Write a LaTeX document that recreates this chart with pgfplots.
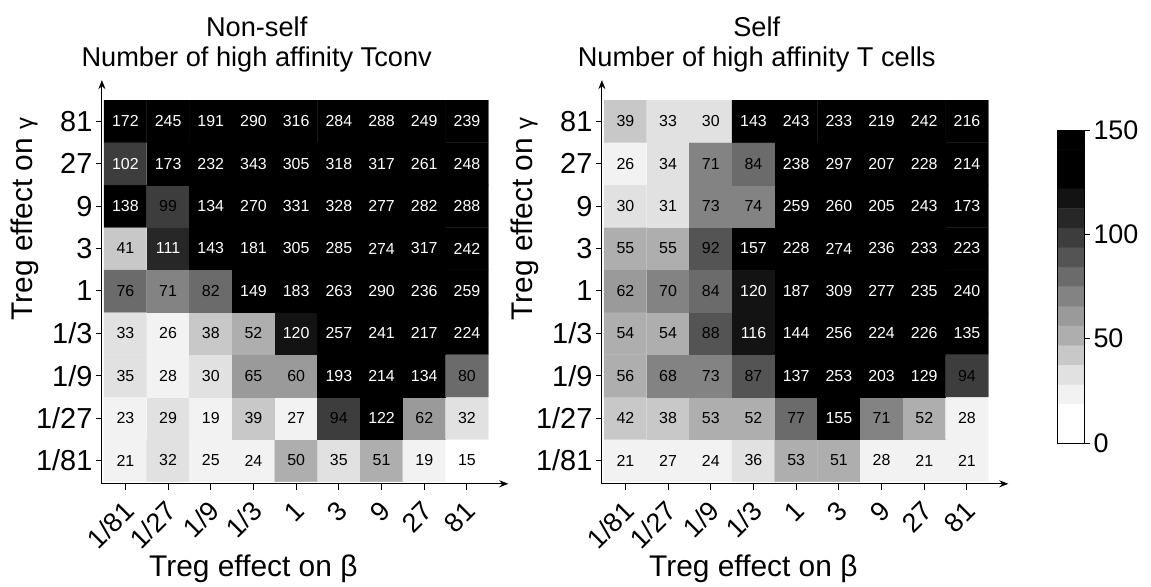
\documentclass[border=0pt]{standalone}
\usepackage{pgfplots}
\pgfplotsset{compat=1.18}
\usepackage{pgfplotstable}
\usepackage{fontspec}
\setmainfont{Liberation Sans}
\usetikzlibrary{arrows.meta}

% Non-self: Number of high affinity Tconv (x = beta index, y = gamma index)
\pgfplotstableread[row sep=\\]{
x y v\\
0 0 21\\ 1 0 32\\ 2 0 25\\ 3 0 24\\ 4 0 50\\ 5 0 35\\ 6 0 51\\ 7 0 19\\ 8 0 15\\
0 1 23\\ 1 1 29\\ 2 1 19\\ 3 1 39\\ 4 1 27\\ 5 1 94\\ 6 1 122\\ 7 1 62\\ 8 1 32\\
0 2 35\\ 1 2 28\\ 2 2 30\\ 3 2 65\\ 4 2 60\\ 5 2 193\\ 6 2 214\\ 7 2 134\\ 8 2 80\\
0 3 33\\ 1 3 26\\ 2 3 38\\ 3 3 52\\ 4 3 120\\ 5 3 257\\ 6 3 241\\ 7 3 217\\ 8 3 224\\
0 4 76\\ 1 4 71\\ 2 4 82\\ 3 4 149\\ 4 4 183\\ 5 4 263\\ 6 4 290\\ 7 4 236\\ 8 4 259\\
0 5 41\\ 1 5 111\\ 2 5 143\\ 3 5 181\\ 4 5 305\\ 5 5 285\\ 6 5 274\\ 7 5 317\\ 8 5 242\\
0 6 138\\ 1 6 99\\ 2 6 134\\ 3 6 270\\ 4 6 331\\ 5 6 328\\ 6 6 277\\ 7 6 282\\ 8 6 288\\
0 7 102\\ 1 7 173\\ 2 7 232\\ 3 7 343\\ 4 7 305\\ 5 7 318\\ 6 7 317\\ 7 7 261\\ 8 7 248\\
0 8 172\\ 1 8 245\\ 2 8 191\\ 3 8 290\\ 4 8 316\\ 5 8 284\\ 6 8 288\\ 7 8 249\\ 8 8 239\\
}\datL

% Self: Number of high affinity T cells
\pgfplotstableread[row sep=\\]{
x y v\\
0 0 21\\ 1 0 27\\ 2 0 24\\ 3 0 36\\ 4 0 53\\ 5 0 51\\ 6 0 28\\ 7 0 21\\ 8 0 21\\
0 1 42\\ 1 1 38\\ 2 1 53\\ 3 1 52\\ 4 1 77\\ 5 1 155\\ 6 1 71\\ 7 1 52\\ 8 1 28\\
0 2 56\\ 1 2 68\\ 2 2 73\\ 3 2 87\\ 4 2 137\\ 5 2 253\\ 6 2 203\\ 7 2 129\\ 8 2 94\\
0 3 54\\ 1 3 54\\ 2 3 88\\ 3 3 116\\ 4 3 144\\ 5 3 256\\ 6 3 224\\ 7 3 226\\ 8 3 135\\
0 4 62\\ 1 4 70\\ 2 4 84\\ 3 4 120\\ 4 4 187\\ 5 4 309\\ 6 4 277\\ 7 4 235\\ 8 4 240\\
0 5 55\\ 1 5 55\\ 2 5 92\\ 3 5 157\\ 4 5 228\\ 5 5 274\\ 6 5 236\\ 7 5 233\\ 8 5 223\\
0 6 30\\ 1 6 31\\ 2 6 73\\ 3 6 74\\ 4 6 259\\ 5 6 260\\ 6 6 205\\ 7 6 243\\ 8 6 173\\
0 7 26\\ 1 7 34\\ 2 7 71\\ 3 7 84\\ 4 7 238\\ 5 7 297\\ 6 7 207\\ 7 7 228\\ 8 7 214\\
0 8 39\\ 1 8 33\\ 2 8 30\\ 3 8 143\\ 4 8 243\\ 5 8 233\\ 6 8 219\\ 7 8 242\\ 8 8 216\\
}\datR

% colour scale bands (centres of 16 steps from 0 to 150)
\pgfplotstableread[row sep=\\]{
x y v\\
0.5 4.6875 4.6875\\ 1.5 4.6875 4.6875\\
0.5 14.0625 14.0625\\ 1.5 14.0625 14.0625\\
0.5 23.4375 23.4375\\ 1.5 23.4375 23.4375\\
0.5 32.8125 32.8125\\ 1.5 32.8125 32.8125\\
0.5 42.1875 42.1875\\ 1.5 42.1875 42.1875\\
0.5 51.5625 51.5625\\ 1.5 51.5625 51.5625\\
0.5 60.9375 60.9375\\ 1.5 60.9375 60.9375\\
0.5 70.3125 70.3125\\ 1.5 70.3125 70.3125\\
0.5 79.6875 79.6875\\ 1.5 79.6875 79.6875\\
0.5 89.0625 89.0625\\ 1.5 89.0625 89.0625\\
0.5 98.4375 98.4375\\ 1.5 98.4375 98.4375\\
0.5 107.8125 107.8125\\ 1.5 107.8125 107.8125\\
0.5 117.1875 117.1875\\ 1.5 117.1875 117.1875\\
0.5 126.5625 126.5625\\ 1.5 126.5625 126.5625\\
0.5 135.9375 135.9375\\ 1.5 135.9375 135.9375\\
0.5 145.3125 145.3125\\ 1.5 145.3125 145.3125\\
}\datC

\pgfplotsset{
  /pgf/number format/assume math mode=true,
  colormap={steps}{rgb255=(255,255,255) rgb255=(255,255,255) rgb255=(242,242,242)
    rgb255=(225,225,225) rgb255=(200,200,200) rgb255=(174,174,174) rgb255=(154,154,154)
    rgb255=(131,131,131) rgb255=(107,107,107) rgb255=(84,84,84) rgb255=(61,61,61)
    rgb255=(39,39,39) rgb255=(19,19,19) rgb255=(0,0,0) rgb255=(0,0,0) rgb255=(0,0,0)},
  hm/.style={
    scale only axis, width=386.4bp, height=383.7bp,
    xmin=-0.55, xmax=8.5, ymin=-0.55, ymax=8.5,
    axis lines=left,
    axis line style={line width=1.1bp, -{Stealth[length=9bp,width=7bp]}, shorten >=-20bp},
    xtick={0,...,8}, ytick={0,...,8},
    xticklabels={1/81,1/27,1/9,1/3,1,3,9,27,81},
    yticklabels={1/81,1/27,1/9,1/3,1,3,9,27,81},
    tick align=outside, major tick length=6bp,
    tick style={black, line width=1bp},
    yticklabel style={font=\fontsize{29}{29}\selectfont},
    xticklabel style={font=\fontsize{27}{27}\selectfont, xshift=6bp, yshift=-14bp, rotate=45, anchor=east},
    colormap name=steps, colormap access=direct,
    xlabel={Treg effect on β},
    ylabel={Treg effect on {\fontsize{24}{24}\selectfont γ}},
    every axis x label/.style={at={(axis description cs:0.392,-0.2403)}, anchor=base,
      font=\fontsize{30}{30}\selectfont},
    every axis y label/.style={at={(axis description cs:-0.199,0.69)}, rotate=90, anchor=center,
      font=\fontsize{30}{30}\selectfont},
    title style={at={(axis description cs:0.4006,1.0574)}, anchor=south, align=center,
      font=\fontsize{27.3}{30}\selectfont, inner sep=0pt},
  },
  cellnums/.style={draw=none, mark=none,
    visualization depends on={\thisrow{v} \as \val},
    nodes near coords={\ifdim\val pt>100pt \color{white}\fi\pgfmathprintnumber[fixed,precision=0]{\val}},
    every node near coord/.append style={anchor=center, font=\fontsize{16}{16}\selectfont}},
}

\begin{document}
\begin{tikzpicture}
\path[use as bounding box] (0,0) rectangle (1151bp,-587bp);

\begin{axis}[hm, at={(101.9bp,-483.8bp)}, anchor=south west,
  title={Non-self\\Number of high affinity Tconv}]
\addplot[matrix plot*, mesh/cols=9, point meta={min(15,floor(\thisrow{v}/9.375))}] table[x=x,y=y]{\datL};
\addplot[cellnums] table[x=x,y=y]{\datL};
\end{axis}

\begin{axis}[hm, at={(601.9bp,-483.8bp)}, anchor=south west,
  title={Self\\Number of high affinity T cells}]
\addplot[matrix plot*, mesh/cols=9, point meta={min(15,floor(\thisrow{v}/9.375))}] table[x=x,y=y]{\datR};
\addplot[cellnums] table[x=x,y=y]{\datR};
\end{axis}

\begin{axis}[at={(1057bp,-443bp)}, anchor=south west, scale only axis,
  width=27bp, height=313bp, xmin=0, xmax=1, ymin=0, ymax=150,
  xtick=\empty, ytick={0,50,100,150}, ytick pos=right, yticklabel pos=right,
  tick align=outside, major tick length=6bp, tick style={black, line width=1bp},
  ticklabel style={font=\fontsize{27}{27}\selectfont},
  axis line style={line width=1bp}, axis on top,
  colormap name=steps, colormap access=direct]
\addplot[matrix plot*, mesh/cols=2, point meta={min(15,floor(\thisrow{v}/9.375))}] table[x=x,y=y]{\datC};
\end{axis}
\end{tikzpicture}
\end{document}
